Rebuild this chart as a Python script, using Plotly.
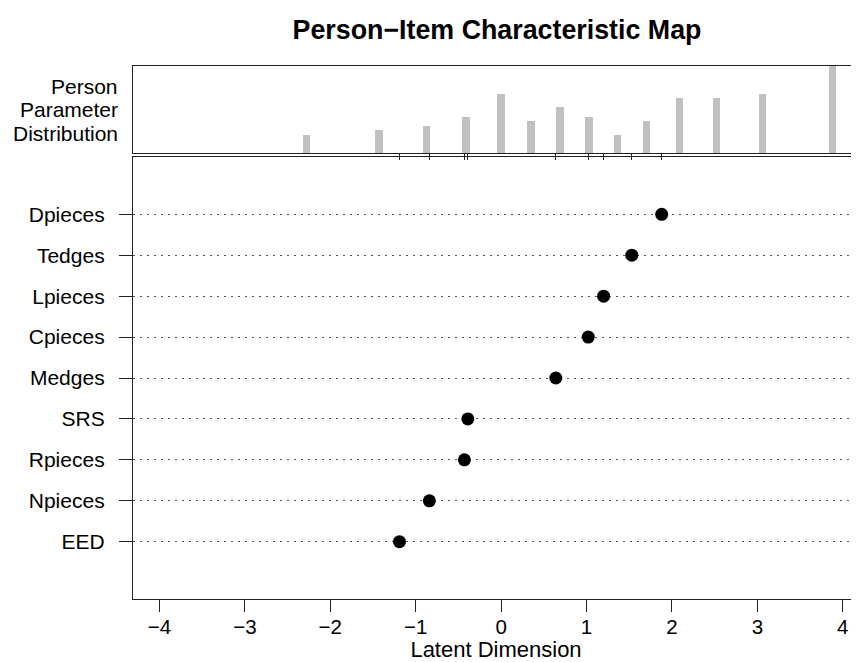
import plotly.graph_objects as go

# ---- data ----
items = ["EED", "Npieces", "Rpieces", "SRS", "Medges", "Cpieces", "Lpieces", "Tedges", "Dpieces"]
item_locations = [-1.19, -0.84, -0.43, -0.39, 0.64, 1.02, 1.20, 1.53, 1.88]
item_positions = [1, 2, 3, 4, 5, 6, 7, 8, 9]

person_params = [-2.28, -1.43, -0.87, -0.41, 0.0, 0.35, 0.69, 1.03, 1.36, 1.70, 2.09, 2.52, 3.06, 3.88]
person_counts = [4, 5, 6, 8, 13, 7, 10, 8, 4, 7, 12, 12, 13, 19]

x_ticks = [-4, -3, -2, -1, 0, 1, 2, 3, 4]
side_label = ["Person", "Parameter", "Distribution"]

FONT = "Liberation Sans, Arial, Helvetica, sans-serif"
W, H = 851, 654          # page has an 8px body margin
PLOT_H = 533
split = 444 / PLOT_H
gap = 2 / PLOT_H
LINE = "#222222"
LW = 1.3

fig = go.Figure()

# person parameter distribution (top panel)
fig.add_trace(go.Bar(
    x=person_params, y=person_counts, width=0.085,
    marker=dict(color="#c0c0c0", line=dict(width=0)),
    xaxis="x2", yaxis="y2", showlegend=False, hoverinfo="skip",
))

# item locations (bottom panel)
fig.add_trace(go.Scatter(
    x=item_locations, y=item_positions, mode="markers",
    marker=dict(color="black", size=13),
    xaxis="x", yaxis="y", showlegend=False,
))

annotations = []
for i, t in enumerate(side_label):
    annotations.append(dict(
        text=t, xref="paper", x=0, xanchor="right", xshift=-13,
        yref="y2 domain", y=0.5, yanchor="middle", yshift=(1 - i) * 23.5,
        align="right", showarrow=False,
        font=dict(family=FONT, size=21, color="black"),
    ))

fig.update_layout(
    width=W, height=H,
    paper_bgcolor="white", plot_bgcolor="white",
    margin=dict(l=125, r=0, t=58, b=63),
    font=dict(family=FONT, size=21, color="black"),
    title=dict(
        text="<b>Person\u2212Item Characteristic Map</b>",
        x=489 / W, xanchor="center", xref="container",
        y=1 - 22 / H, yanchor="middle",
        font=dict(family=FONT, size=26.8, color="black"),
    ),
    xaxis=dict(
        domain=[0, 1], anchor="y", range=[-4.31, 4.19],
        tickvals=x_ticks, ticks="outside", ticklen=12, tickwidth=LW, tickcolor=LINE,
        ticklabelstandoff=-3,
        showline=True, linecolor=LINE, linewidth=LW, mirror=True,
        showgrid=False, zeroline=False,
        tickfont=dict(size=20.5),
        title=dict(text="Latent Dimension", font=dict(size=22), standoff=4),
    ),
    yaxis=dict(
        domain=[0, split - gap], anchor="x", range=[-0.4, 10.4],
        tickvals=item_positions, ticktext=items,
        ticks="outside", ticklen=13, tickwidth=LW, tickcolor=LINE,
        ticklabelstandoff=10,
        showline=True, linecolor=LINE, linewidth=LW, mirror=True,
        showgrid=True, gridcolor="#555555", gridwidth=1.3, griddash="2px,5px",
        zeroline=False, tickfont=dict(size=21),
    ),
    xaxis2=dict(
        domain=[0, 1], anchor="y2", matches="x",
        tickvals=item_locations, ticks="outside", ticklen=6, tickwidth=LW, tickcolor=LINE,
        showticklabels=False,
        showline=True, linecolor=LINE, linewidth=LW, mirror=True,
        showgrid=False, zeroline=False,
    ),
    yaxis2=dict(
        domain=[split + gap, 1], anchor="x2", range=[0, 19.1],
        showticklabels=False, ticks="",
        showline=True, linecolor=LINE, linewidth=LW, mirror=True,
        showgrid=False, zeroline=False,
    ),
    bargap=0,
    annotations=annotations,
)

fig.write_html("out.html")
